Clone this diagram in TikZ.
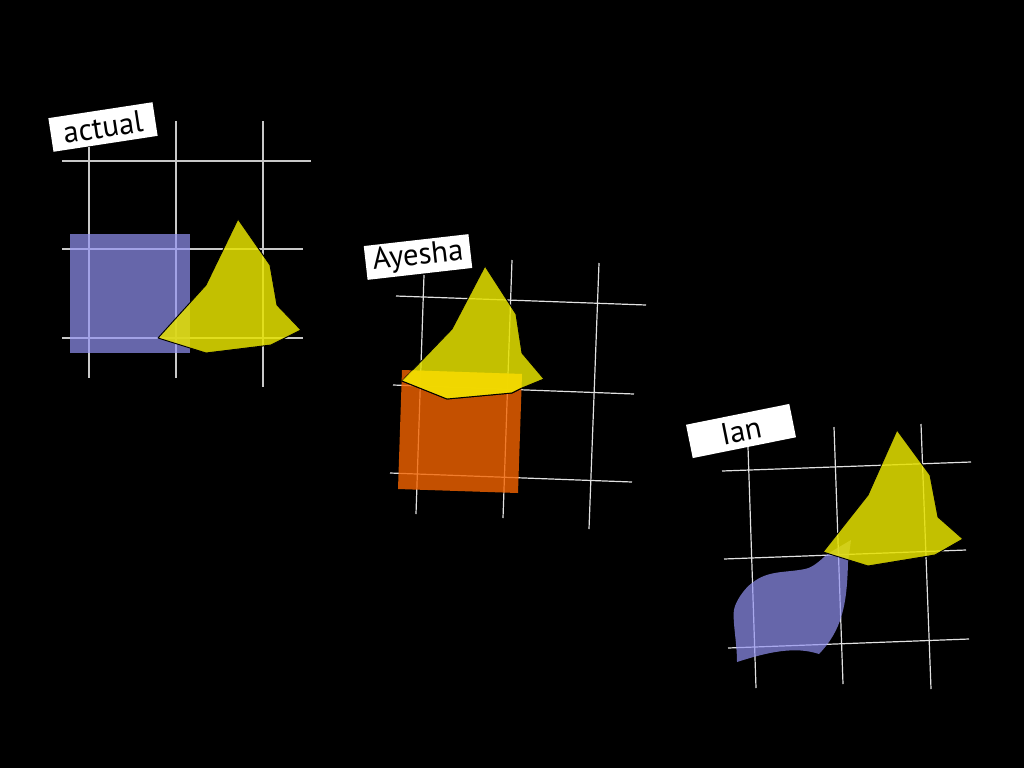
\documentclass[tikz,border=0pt]{standalone}
\usepackage{fontspec}
\setmainfont{PT Sans}
\definecolor{gridA}{RGB}{200,200,200}
\definecolor{gridB}{RGB}{225,225,225}
\definecolor{bluefill}{RGB}{146,146,243}
\definecolor{orangefill}{RGB}{245,100,0}
\definecolor{yellowfill}{RGB}{230,226,0}
\definecolor{brightyellow}{RGB}{244,218,0}
\tikzset{
  gridA/.style={draw=gridA, line width=1.0pt},
  gridB/.style={draw=gridB, line width=0.9pt},
  bluebox/.style={fill=bluefill, fill opacity=0.7, draw=none},
  orangebox/.style={fill=orangefill, fill opacity=0.8, draw=none},
  yellowpoly/.style={fill=yellowfill, fill opacity=0.85, draw=black, line width=0.7pt, line join=round},
  lbl/.style={fill=white, text=black, inner sep=0pt, minimum width=79pt, minimum height=25.5pt, font=\fontsize{23}{25}\selectfont}
}
\begin{document}
\begin{tikzpicture}[x=0.75pt, y=-0.75pt]
\useasboundingbox (0,0) rectangle (1024,768);
\fill[black] (0,0) rectangle (1024,768);

% ---------- panel 1: actual ----------
\draw[gridA] (89,147) -- (89,378);
\draw[gridA] (176,121) -- (176,378);
\draw[gridA] (263,121) -- (263,387);
\draw[gridA] (62,161) -- (311,161);
\draw[gridA] (62,249) -- (303,249);
\draw[gridA] (62,338) -- (303,338);
\path[bluebox] (70,234) rectangle (190,353);
\path[yellowpoly] (238,219) -- (270,265) -- (277,305) -- (301,330) -- (271,345) -- (206,353) -- (158,338) -- (206,285) -- cycle;
\node[lbl, rotate=8.7] (actual) at (103,127) {actual};

% ---------- panel 2: Ayesha ----------
\draw[gridB] (424,275) -- (416,514);
\draw[gridB] (512,260) -- (503,518);
\draw[gridB] (599,263) -- (589,529);
\draw[gridB] (396,296) -- (646,305);
\draw[gridB] (393,385) -- (634,394);
\draw[gridB] (390,473) -- (632,482);
\path[orangebox] (402,370) -- (522,374) -- (518,493) -- (398,489) -- cycle;
\path[yellowpoly] (485,266) -- (516,314) -- (522,353) -- (544,379) -- (522,388) -- (512,393) -- (447,399) -- (402,381) -- (452,329) -- cycle;
\begin{scope}
  \clip (402,370) -- (522,374) -- (518,493) -- (398,489) -- cycle;
  \fill[brightyellow, fill opacity=0.8] (485,266) -- (516,314) -- (522,353) -- (544,379) -- (522,388) -- (512,393) -- (447,399) -- (402,381) -- (452,329) -- cycle;
  \draw[black, line width=0.7pt, line join=round] (522,388) -- (512,393) -- (447,399) -- (402,381);
\end{scope}
\node[lbl, rotate=6.5] (ayesha) at (418,257) {Ayesha};

% ---------- panel 3: Ian ----------
\draw[gridB] (748,447) -- (756,688);
\draw[gridB] (834,427) -- (843,684);
\draw[gridB] (921,424) -- (931,689);
\draw[gridB] (722,471) -- (971,462);
\draw[gridB] (724,559) -- (966,550);
\draw[gridB] (728,648) -- (969,639);
\path[bluebox] (851,540) -- (848,562)
  .. controls (847,605) and (842,630) .. (819,654)
  .. controls (795,646) and (768,652) .. (737,662)
  .. controls (737,640) and (731,615) .. (735,606)
  .. controls (738,598) and (745,588) .. (752,583)
  .. controls (768,570) and (785,573) .. (805,569)
  .. controls (815,567) and (822,558) .. (829,553)
  -- cycle;
\path[yellowpoly] (897,430) -- (930,475) -- (938,517) -- (963,539) -- (935,555) -- (868,566) -- (823,552) -- (868,495) -- cycle;
\node[lbl, rotate=11.4] (ian) at (741,431) {Ian};
\end{tikzpicture}
\end{document}
